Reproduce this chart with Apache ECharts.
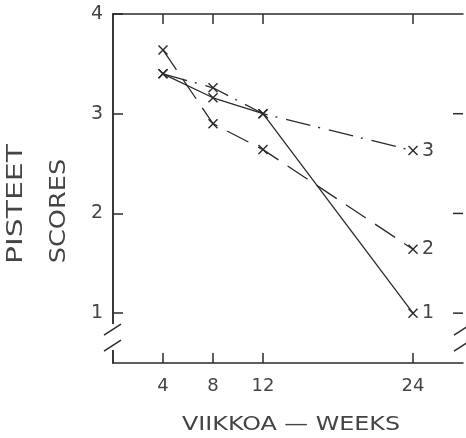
<!DOCTYPE html>
<html>
<head>
<meta charset="utf-8">
<script src="https://cdn.jsdelivr.net/npm/echarts@6/dist/echarts.min.js"></script>
<style>
  html, body { margin: 0; padding: 0; background: #fff; }
  #chart { width: 466px; height: 438px; }
</style>
</head>
<body>
<div id="chart"></div>
<script>
// Weeks of follow-up and mean scores for the three groups
const weeks = [4, 8, 12, 24];
const group1 = [3.4, 3.16, 3.0, 1.0];
const group2 = [3.64, 2.9, 2.64, 1.64];
const group3 = [3.4, 3.26, 3.0, 2.63];
const groupNames = ['1', '2', '3'];
const xTicks = [4, 8, 12, 24];
const yTicks = [1, 2, 3, 4];
const rightTicks = [1, 2, 3];

const INK = '#2b2b2b';
const TEXT = '#444';
const FONT = 'DejaVu Sans';

// thin filled "x" marker
const CROSS = 'path://M0,1L1,0L5,4L9,0L10,1L6,5L10,9L9,10L5,6L1,10L0,9L4,5Z';

function pairs(xs, ys) { return xs.map((x, i) => [x, ys[i]]); }

function lineSeries(name, values, dash) {
  return {
    name: name,
    type: 'line',
    xAxisIndex: 0,
    yAxisIndex: 0,
    data: pairs(weeks, values),
    symbol: CROSS,
    symbolSize: 10,
    showAllSymbol: true,
    itemStyle: { color: INK },
    lineStyle: { color: INK, width: 1.3, type: dash },
    endLabel: {
      show: true,
      formatter: name,
      distance: 9,
      color: TEXT,
      fontFamily: FONT,
      fontSize: 19
    },
    animation: false,
    z: 3
  };
}

const chart = echarts.init(document.getElementById('chart'), null, { renderer: 'canvas' });

const axisLine = { show: true, lineStyle: { color: INK, width: 1.5 } };
const tickStyle = { color: INK, width: 1.5 };

chart.setOption({
  backgroundColor: '#fff',
  animation: false,
  grid: { left: 113, right: 3, top: 14, bottom: 75 },
  xAxis: [
    {
      type: 'value', position: 'bottom', min: 0, max: 28,
      axisLine: axisLine,
      axisTick: { show: true, inside: true, length: 10, customValues: xTicks, lineStyle: tickStyle },
      axisLabel: { show: true, customValues: xTicks, margin: 14, color: TEXT, fontFamily: FONT, fontSize: 18 },
      splitLine: { show: false }
    },
    {
      type: 'value', position: 'top', min: 0, max: 28,
      axisLine: axisLine,
      axisTick: { show: false },
      axisLabel: { show: false },
      splitLine: { show: false }
    }
  ],
  yAxis: [
    {
      type: 'value', position: 'left', min: 0.5, max: 4,
      axisLine: axisLine,
      axisTick: { show: true, inside: true, length: 10, customValues: yTicks, lineStyle: tickStyle },
      axisLabel: { show: true, customValues: yTicks, margin: 10, color: TEXT, fontFamily: FONT, fontSize: 19 },
      splitLine: { show: false }
    },
    {
      type: 'value', position: 'right', min: 0.5, max: 4,
      axisLine: axisLine,
      axisTick: { show: false },
      axisLabel: { show: false },
      splitLine: { show: false }
    }
  ],
  series: [
    lineSeries(groupNames[0], group1, 'solid'),
    lineSeries(groupNames[1], group2, [24, 11]),
    lineSeries(groupNames[2], group3, [25, 8, 2, 9])
  ]
});

// frame extras: inward ticks on the top/right edges, broken-axis marks, titles
const leftX = chart.convertToPixel({ xAxisIndex: 0 }, 0);
const rightX = chart.convertToPixel({ xAxisIndex: 0 }, 28);
const topY = chart.convertToPixel({ yAxisIndex: 0 }, 4);
const gapTop = chart.convertToPixel({ yAxisIndex: 0 }, 0.89);
const gapBottom = chart.convertToPixel({ yAxisIndex: 0 }, 0.63);
const slashA = chart.convertToPixel({ yAxisIndex: 0 }, 0.84);
const slashB = chart.convertToPixel({ yAxisIndex: 0 }, 0.68);
const TICK = 10;

function tick(x1, y1, x2, y2) {
  return { type: 'line', shape: { x1: x1, y1: y1, x2: x2, y2: y2 }, style: { stroke: INK, lineWidth: 1.5 }, z: 10 };
}

const frameTicks = [];
xTicks.forEach(v => {
  const x = chart.convertToPixel({ xAxisIndex: 0 }, v);
  frameTicks.push(tick(x, topY, x, topY + TICK));
});
rightTicks.forEach(v => {
  const y = chart.convertToPixel({ yAxisIndex: 0 }, v);
  frameTicks.push(tick(rightX, y, rightX - TICK, y));
});

function breakMarks(x) {
  const els = [{
    type: 'rect',
    shape: { x: x - 3, y: gapTop, width: 6, height: gapBottom - gapTop },
    style: { fill: '#fff' },
    z: 10
  }];
  [slashA, slashB].forEach(y => {
    els.push({
      type: 'line',
      shape: { x1: x - 9, y1: y + 6, x2: x + 8, y2: y - 5 },
      style: { stroke: INK, lineWidth: 1.5 },
      z: 11
    });
  });
  return els;
}

// wide-set stencil-style titles: stretched along the reading direction
function title(text, x, y, size, stretch, rotation) {
  return {
    type: 'text', x: x, y: y, rotation: rotation || 0, scaleX: stretch,
    style: { text: text, fill: TEXT, font: size + 'px "' + FONT + '"', align: 'center', verticalAlign: 'middle' },
    z: 10
  };
}

chart.setOption({
  graphic: [
    ...frameTicks,
    ...breakMarks(leftX),
    ...breakMarks(rightX),
    title('PISTEET', 17, 204, 21, 1.42, Math.PI / 2),
    title('SCORES', 60, 211, 21, 1.22, Math.PI / 2),
    title('VIIKKOA — WEEKS', 291, 425, 20, 1.19)
  ]
});
</script>
</body>
</html>
